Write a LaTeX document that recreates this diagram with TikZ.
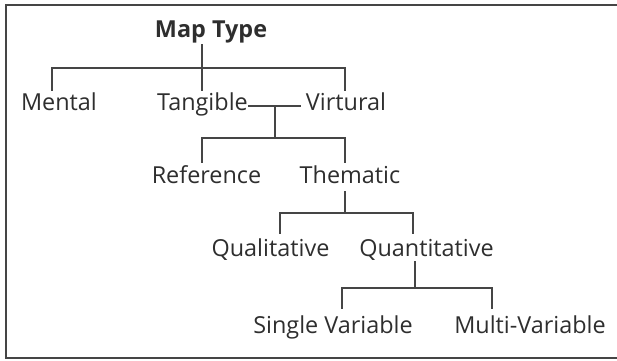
\documentclass[tikz,border=0pt]{standalone}
\usepackage{fontspec}
\setmainfont{Open Sans}
\definecolor{txt}{HTML}{2E2E2E}
\definecolor{ln}{HTML}{454545}
\begin{document}
\begin{tikzpicture}[x=1pt,y=-1pt,
  lbl/.style={anchor=base,inner sep=0pt,text=txt,font=\fontsize{23.4}{26}\selectfont},
  conn/.style={draw=ln,line width=2.4pt,line cap=rect}]
\useasboundingbox (0,0) rectangle (617,360);
\draw[ln,line width=2.6pt] (617,5) -- (6,5) -- (6,358) -- (617,358);
% labels
\node[lbl,font=\fontsize{23.4}{26}\selectfont\bfseries] (mt) at (211,37) {Map Type};
\node[lbl] (mental) at (59,110) {Mental};
\node[lbl] (tang) at (202.5,110) {Tangible};
\node[lbl] (virt) at (346,110) {Virtural};
\node[lbl] (ref) at (206.5,183) {Reference};
\node[lbl] (them) at (350,183) {Thematic};
\node[lbl] (qual) at (270.5,256) {Qualitative};
\node[lbl] (quan) at (426.5,256) {Quantitative};
\node[lbl] (single) at (333,333) {Single Variable};
\node[lbl] (multi) at (530,333) {Multi-Variable};
% junctions
\coordinate (j1) at (202,68);
\coordinate (j2) at (275,106);
\coordinate (j3) at (275,138);
\coordinate (j4) at (345,213);
\coordinate (j5) at (415,288);
% level 1
\draw[conn] (202,45) -- (j1);
\draw[conn] (52,90) |- (j1) -| (345,90);
\draw[conn] (j1) -- (202,90);
% tangible - virtural
\draw[conn] (tang.east |- j2) ++(1,0) coordinate (tv1) -- (300,106) coordinate (tv2);
\draw[conn] (j2) -- (j3);
\draw[conn] (202,162) |- (j3) -| (345,162);
% thematic
\draw[conn] (345,192) -- (j4);
\draw[conn] (280,233) |- (j4) -| (413,233);
% quantitative
\draw[conn] (415,262) -- (j5);
\draw[conn] (342,308) |- (j5) -| (492,308);
\end{tikzpicture}
\end{document}
